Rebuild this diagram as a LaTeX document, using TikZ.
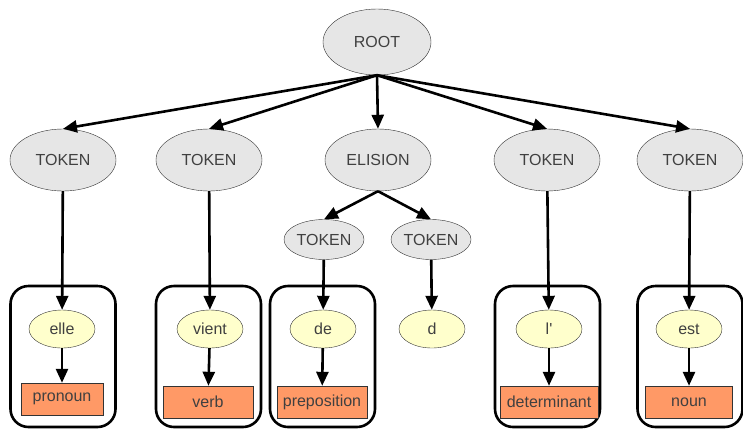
\documentclass[tikz,border=0pt]{standalone}
\usepackage{fontspec}
\setmainfont{Liberation Sans}
\usetikzlibrary{shapes.geometric,arrows.meta}
\definecolor{nodegray}{HTML}{E6E6E6}
\definecolor{wordyellow}{HTML}{FFFFCC}
\definecolor{posorange}{HTML}{FF9966}
\definecolor{labelgray}{HTML}{404040}

\begin{document}
\begin{tikzpicture}[x=1pt, y=-1pt,
  every node/.style={font=\fontsize{16}{19}\selectfont, text=labelgray},
  catnode/.style={ellipse, draw=black!80, fill=nodegray, inner sep=0pt,
                  minimum width=106pt, minimum height=62pt},
  subtok/.style={catnode, minimum width=80pt, minimum height=40pt},
  wordnode/.style={ellipse, draw=black!80, fill=wordyellow, inner sep=0pt,
                   minimum width=66pt, minimum height=38pt},
  tagbox/.style={draw=black!80, fill=posorange, inner sep=0pt, minimum height=32pt},
  wordbox/.style={draw, line width=2.6pt, rounded corners=18pt,
                  minimum width=105pt, minimum height=141pt},
  link/.style={-{Triangle[length=14pt,width=12pt]}, line width=2.6pt}
]
\useasboundingbox (0,0) rectangle (743,429);

% groups
\node[wordbox] (g1) at (63,356.5) {};
\node[wordbox] (g2) at (208.5,356.5) {};
\node[wordbox] (g3) at (322.5,356.5) {};
\node[wordbox] (g4) at (547.5,356.5) {};
\node[wordbox] (g5) at (690,356.5) {};

% tree
\node[catnode, minimum width=108pt, minimum height=66pt] (root) at (377,42) {ROOT};
\node[catnode] (t1) at (63,160) {TOKEN};
\node[catnode] (t2) at (209,160) {TOKEN};
\node[catnode] (elis) at (378,160) {ELISION};
\node[catnode] (t4) at (547,160) {TOKEN};
\node[catnode] (t5) at (690,160) {TOKEN};
\node[subtok] (s1) at (324,239.5) {TOKEN};
\node[subtok] (s2) at (431,239.5) {TOKEN};

% words and tags
\node[wordnode] (w1) at (62,329) {elle};
\node[wordnode] (w2) at (210,329) {vient};
\node[wordnode] (w3) at (323,329) {de};
\node[wordnode] (w4) at (432,329) {d};
\node[wordnode] (w5) at (549,329) {l\textquotesingle};
\node[wordnode] (w6) at (689,329) {est};
\node[tagbox, minimum width=82pt] (p1) at (62,399) {pronoun};
\node[tagbox, minimum width=90pt] (p2) at (208,402) {verb};
\node[tagbox, minimum width=90pt] (p3) at (322,402) {preposition};
\node[tagbox, minimum width=98pt] (p5) at (549,402) {determinant};
\node[tagbox, minimum width=87pt] (p6) at (689,402) {noun};

% connectors
\foreach \n in {t1,t2,elis,t4,t5}
  \draw[link] (root.south) -- (\n.north);
\draw[link] (elis.south) -- (s1.north);
\draw[link] (elis.south) -- (s2.north);
\draw[link] (t1) -- (w1);
\draw[link] (t2) -- (w2);
\draw[link] (s1) -- (w3);
\draw[link] (s2) -- (w4);
\draw[link] (t4) -- (w5);
\draw[link] (t5) -- (w6);
\draw[link] (w1) -- (p1);
\draw[link] (w2) -- (p2);
\draw[link] (w3) -- (p3);
\draw[link] (w5) -- (p5);
\draw[link] (w6) -- (p6);
\end{tikzpicture}
\end{document}
